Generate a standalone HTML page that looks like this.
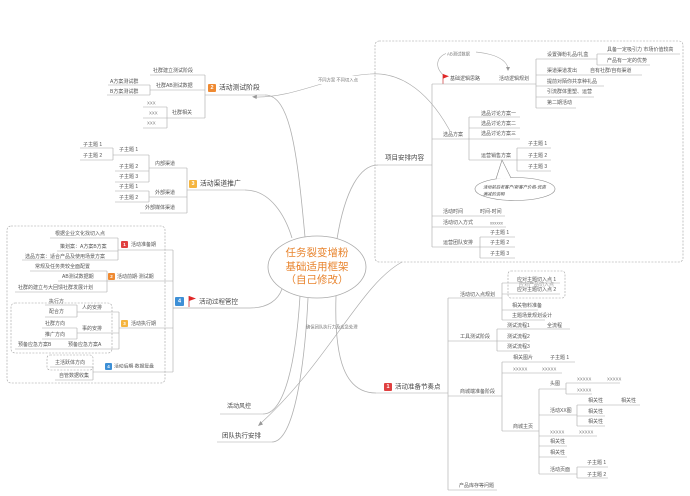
<!DOCTYPE html>
<html><head><meta charset="utf-8"><style>
html,body{margin:0;padding:0;background:#fff;}
svg{display:block;}
text{font-family:"Liberation Sans","Noto Sans CJK SC",sans-serif;fill:#555;font-size:5px;dominant-baseline:central;}
.l{stroke:#a8a8a8;stroke-width:.6;fill:none;}
.m{stroke:#b0b0b0;stroke-width:.8;fill:none;}
.d{stroke:#a0a0a0;stroke-width:.6;fill:none;stroke-dasharray:2 1.3;}
.b{font-size:6.8px;fill:#444;}
.x{font-size:4.3px;fill:#777;}
.bt{fill:#fff;font-size:5.5px;font-weight:bold;text-anchor:middle;}
</style></head><body>
<svg width="690" height="496" viewBox="0 0 690 496" xmlns="http://www.w3.org/2000/svg">
<rect width="690" height="496" fill="#fff"/>

<!-- Dashed boxes -->
<rect class="d" x="7" y="226" width="158" height="157" rx="4"/>
<rect class="d" x="11" y="303" width="101" height="50" rx="4"/>
<rect class="d" x="47" y="355" width="46" height="15" rx="3"/>
<rect class="d" x="375" y="41" width="308" height="221" rx="4"/>
<rect class="d" x="508" y="271" width="57" height="27" rx="3"/>

<!-- Main connectors -->
<path class="m" d="M265,95 C290,95 297,150 305,237"/>
<path class="m" d="M245,190 C270,190 285,215 292,238"/>
<path class="m" d="M173,308 H250 C268,308 278,300 282,289"/>
<path class="m" d="M337,239 C345,190 360,165 378,165"/>
<path class="m" d="M336,296 C334,360 345,393 376,393"/>
<path class="m" d="M263,414 C285,414 296,360 300,296"/>
<path class="m" d="M272,442 C295,442 305,360 308,298"/>

<!-- Relationship arrows -->
<path class="l" d="M450,131 C425,85 395,72 370,74 C330,76 295,98 255,97"/>
<path d="M252,96.8 L257,94.8 L256.6,99 Z" fill="#999"/>
<rect x="316" y="76" width="56" height="8" fill="#fff"/>
<text class="x" x="318" y="80">不同方案 不同切入点</text>

<path class="l" d="M402,262 C360,285 330,360 260,424"/>
<path d="M258,426 L260.5,421 L263,424.5 Z" fill="#999"/>
<text class="x" x="306" y="327">确保团队执行力及应急处理</text>

<path class="l" d="M446,77 C432,68 436,52 455,52 C480,50 505,55 508,68"/>
<path d="M508,71 L506,67 L510,67 Z" fill="#999"/>
<rect x="446" y="51" width="30" height="6" fill="#fff"/>
<text class="x" x="447" y="54">AB测试数据</text>

<!-- Center -->
<ellipse cx="317" cy="267" rx="49" ry="31" fill="#fff" stroke="#aaa" stroke-width=".8"/>
<text x="317" y="253" style="font-size:10.5px;fill:#e8842e;text-anchor:middle">任务裂变增粉</text>
<text x="317" y="267" style="font-size:10.5px;fill:#e8842e;text-anchor:middle">基础适用框架</text>
<text x="317" y="280" style="font-size:10.5px;fill:#e8842e;text-anchor:middle">（自己修改）</text>

<!-- Branch 2 活动测试阶段 -->
<rect x="208" y="84" width="8" height="8" rx="1" fill="#ef8a32"/><text class="bt" x="212" y="88">2</text>
<text class="b" x="219" y="88">活动测试阶段</text>
<path class="l" d="M205,95 H265 M205,75 V118"/>
<text x="153" y="71">社群建立测试阶段</text><path class="l" d="M150,75 H205"/>
<text x="156" y="86">社群AB测试数据</text><path class="l" d="M150,90 H205"/>
<text x="172" y="113">社群相关</text><path class="l" d="M167,118 H205"/>
<path class="l" d="M150,85 V95"/>
<text x="110" y="82">A方案测试群</text><path class="l" d="M108,85 H150"/>
<text x="110" y="92">B方案测试群</text><path class="l" d="M107,95 H150"/>
<path class="l" d="M167,107 V128"/>
<text class="x" x="147" y="103">XXX</text><path class="l" d="M143,107 H167"/>
<text class="x" x="149" y="113">XXX</text><path class="l" d="M143,118 H167"/>
<text class="x" x="147" y="123">XXX</text><path class="l" d="M143,128 H167"/>

<!-- Branch 3 活动渠道推广 -->
<rect x="189" y="180" width="8" height="8" rx="1" fill="#f5b53f"/><text class="bt" x="193" y="184">3</text>
<text class="b" x="200" y="184">活动渠道推广</text>
<path class="l" d="M187,190 H245 M187,168 V213"/>
<text x="155" y="164">内部渠道</text><path class="l" d="M149,168 H187"/>
<text x="155" y="193">外部渠道</text><path class="l" d="M149,197 H187"/>
<text x="145" y="208">外部媒体渠道</text><path class="l" d="M140,213 H187"/>
<path class="l" d="M149,155 V182"/>
<text x="119" y="150">子主题 1</text><path class="l" d="M113,155 H149"/>
<text x="119" y="167">子主题 2</text><path class="l" d="M115,171 H149"/>
<text x="119" y="177">子主题 3</text><path class="l" d="M115,182 H149"/>
<path class="l" d="M113,148 V160"/>
<text x="83" y="145">子主题 1</text><path class="l" d="M80,148 H113"/>
<text x="83" y="156">子主题 2</text><path class="l" d="M80,160 H113"/>
<path class="l" d="M149,191 V202"/>
<text x="119" y="187">子主题 1</text><path class="l" d="M115,191 H149"/>
<text x="119" y="198">子主题 2</text><path class="l" d="M115,202 H149"/>

<!-- Branch 4 活动过程管控 -->
<rect x="175" y="297" width="9" height="9" rx="1" fill="#3d8fd6"/><text class="bt" x="179.5" y="301.5">4</text>
<path d="M189,296 V307" stroke="#c33" stroke-width=".8"/><path d="M189,296 L196,298.5 L189,301 Z" fill="#e02828"/>
<text class="b" x="199" y="302" style="font-size:6.5px">活动过程管控</text>
<path class="l" d="M173,250 V372"/>
<rect x="121" y="241" width="7" height="7" rx="1" fill="#e04040"/><text class="bt" x="124.5" y="244.5" style="font-size:4.5px">1</text>
<text x="131" y="245">活动准备期</text><path class="l" d="M118,250 H173"/>
<rect x="108" y="273" width="7" height="7" rx="1" fill="#ef8a32"/><text class="bt" x="111.5" y="276.5" style="font-size:4.5px">2</text>
<text x="117" y="277">活动前期·测试期</text><path class="l" d="M107,281 H173"/>
<rect x="121" y="320" width="7" height="7" rx="1" fill="#f5b53f"/><text class="bt" x="124.5" y="323.5" style="font-size:4.5px">3</text>
<text x="131" y="324">活动执行期</text><path class="l" d="M119,328 H173"/>
<rect x="105" y="363" width="7" height="7" rx="1" fill="#3d8fd6"/><text class="bt" x="108.5" y="366.5" style="font-size:4.5px">4</text>
<text x="114" y="367" style="font-size:4.8px">活动后期·数据复盘</text><path class="l" d="M93,372 H173"/>

<path class="l" d="M118,238 V260"/>
<text x="55" y="234">根据企业文化找切入点</text><path class="l" d="M50,238 H118"/>
<text x="60" y="247">策划案：A方案B方案</text><path class="l" d="M57,251 H118"/>
<text x="25" y="257">选品方案：适合产品及使用场景方案</text><path class="l" d="M22,260 H118"/>

<path class="l" d="M107,271 V292"/>
<text x="35" y="267">常规及任务类较全面配置</text><path class="l" d="M30,271 H107"/>
<text x="62" y="277">AB测试数据期</text><path class="l" d="M58,281 H107"/>
<text x="18" y="288">社群的建立与大回馈社群发展计划</text><path class="l" d="M15,292 H107"/>

<path class="l" d="M119,312 V349"/>
<text x="82" y="308">人的安排</text><path class="l" d="M77,312 H119"/>
<text x="82" y="329">事的安排</text><path class="l" d="M77,333 H119"/>
<text x="68" y="345">预备应急方案A</text><path class="l" d="M65,349 H119"/>
<path class="l" d="M77,305 V317"/>
<text x="49" y="302">执行方</text><path class="l" d="M45,305 H77"/>
<text x="49" y="312">配合方</text><path class="l" d="M45,317 H77"/>
<path class="l" d="M77,328 V339"/>
<text x="45" y="324">社群方向</text><path class="l" d="M42,328 H77"/>
<text x="45" y="335">推广方向</text><path class="l" d="M42,339 H77"/>
<text x="18" y="345">预备应急方案B</text><path class="l" d="M15,349 H65"/>

<path class="l" d="M93,367 V380"/>
<text x="55" y="363">主活跃体方向</text><path class="l" d="M50,367 H93"/>
<text x="59" y="376">自管数据收集</text><path class="l" d="M55,380 H93"/>

<!-- Right: 项目安排内容 -->
<text class="b" x="385" y="158" style="font-size:6.5px">项目安排内容</text>
<path class="l" d="M378,165 H432 M432,84 V247"/>
<path d="M443,74 V84" stroke="#c33" stroke-width=".7"/><path d="M443,74 L449,76.3 L443,78.6 Z" fill="#e02828"/>
<text x="450" y="79">基础逻辑思路</text>
<text x="499" y="79">活动逻辑规划</text>
<path class="l" d="M432,84 H536 M536,59 V108"/>
<text x="547" y="55">设置弹粉礼品/礼盒</text><path class="l" d="M536,59 H597 M597,54 V65"/>
<text x="607" y="50">具备一定吸引力 市场价值较高</text><path class="l" d="M597,54 H680"/>
<text x="607" y="61">产品有一定的优势</text><path class="l" d="M597,65 H650"/>
<text x="547" y="71">渠道渠道发出</text><text x="590" y="71">自有社群/自有渠道</text><path class="l" d="M536,75 H642"/>
<text x="547" y="82">提前对陌你共享种礼品</text><path class="l" d="M536,86 H604"/>
<text x="547" y="92">引流群体重塑、运营</text><path class="l" d="M536,97 H594"/>
<text x="547" y="103">第二期活动</text><path class="l" d="M536,108 H576"/>

<text x="443" y="135">选品方案</text><path class="l" d="M432,139 H469 M469,117 V160"/>
<text x="481" y="114">选品讨论方案一</text><path class="l" d="M469,117 H520"/>
<text x="481" y="124">选品讨论方案二</text><path class="l" d="M469,128 H520"/>
<text x="481" y="134">选品讨论方案三</text><path class="l" d="M469,139 H520"/>
<text x="481" y="156">运营销售方案</text><path class="l" d="M469,160 H517 M517,148 V171"/>
<text x="528" y="144">子主题 1</text><path class="l" d="M517,148 H551"/>
<text x="528" y="156">子主题 2</text><path class="l" d="M517,160 H551"/>
<text x="528" y="167">子主题 3</text><path class="l" d="M517,171 H551"/>
<ellipse cx="515" cy="189" rx="40" ry="11.5" fill="#fff" stroke="#888" stroke-width=".6"/>
<path d="M496,179 L502,160 L511,178" fill="#fff" stroke="#888" stroke-width=".6"/>
<text class="x" x="483" y="187" style="font-style:italic;fill:#444">活动前后老客户/新客户价格-优惠</text>
<text class="x" x="483" y="194" style="font-style:italic;fill:#444">满减的说明</text>

<text x="443" y="212">活动时间</text><text x="480" y="212">时间-时间</text><path class="l" d="M432,216 H505"/>
<text x="443" y="223">活动切入方式</text><text class="x" x="490" y="223">xxxxxx</text><path class="l" d="M432,227 H506"/>
<text x="443" y="243">运营团队安排</text><path class="l" d="M432,247 H480 M480,237 V258"/>
<text x="490" y="233">子主题 1</text><path class="l" d="M480,237 H515"/>
<text x="490" y="243">子主题 2</text><path class="l" d="M480,247 H515"/>
<text x="490" y="254">子主题 3</text><path class="l" d="M480,258 H515"/>

<!-- Branch 1 活动准备节奏点 -->
<rect x="384" y="383" width="8" height="8" rx="1" fill="#e04040"/><text class="bt" x="388" y="387">1</text>
<text class="b" x="395" y="387" style="font-size:6.5px">活动准备节奏点</text>
<path class="l" d="M376,393 H448 M448,298 V490"/>
<text x="460" y="295">活动切入点规划</text><path class="l" d="M448,298 H502 M502,283 V320"/>
<text x="517" y="280">应对主题切入点 1</text><path class="l" d="M502,283 H560"/>
<text x="519" y="285" style="fill:#999">应对产品切入点</text>
<text x="517" y="290">应对主题切入点 2</text><path class="l" d="M502,294 H560"/>
<text x="512" y="306">相关物料准备</text><path class="l" d="M502,310 H538"/>
<text x="512" y="316">主题场景规划设计</text><path class="l" d="M502,320 H545"/>

<text x="460" y="337">工具测试阶段</text><path class="l" d="M448,341 H497 M497,329 V351"/>
<text x="507" y="326">测试流程1</text><text x="547" y="326">全流程</text><path class="l" d="M497,329 H570"/>
<text x="507" y="337">测试流程2</text><path class="l" d="M497,341 H530"/>
<text x="507" y="347">测试流程3</text><path class="l" d="M497,351 H530"/>

<text x="460" y="392">商城端准备阶段</text><path class="l" d="M448,396 H502 M502,362 V431"/>
<text x="513" y="358">相关图片</text><text x="550" y="358">子主题 1</text><path class="l" d="M502,362 H575"/>
<text class="x" x="513" y="369">XXXXX</text><text class="x" x="542" y="369">XXXXX</text><path class="l" d="M502,373 H562"/>
<text x="513" y="427">商城主页</text><path class="l" d="M502,431 H539 M539,389 V474"/>
<text x="550" y="384">头图</text><path class="l" d="M539,389 H566 M566,383 V394"/>
<text class="x" x="577" y="379">XXXXX</text><text class="x" x="607" y="379">XXXXX</text><path class="l" d="M566,383 H620"/>
<text class="x" x="577" y="390">XXXXX</text><path class="l" d="M566,394 H592"/>
<text x="550" y="411">活动XX图</text><path class="l" d="M539,415 H577 M577,405 V426"/>
<text x="588" y="401">相关性</text><text x="621" y="401">相关性</text><path class="l" d="M577,405 H640"/>
<text x="588" y="412">相关性</text><path class="l" d="M577,416 H605"/>
<text x="588" y="422">相关性</text><path class="l" d="M577,426 H605"/>
<text class="x" x="550" y="432">XXXXX</text><text class="x" x="579" y="432">XXXXX</text><path class="l" d="M539,436 H597"/>
<text x="550" y="442">相关性</text><path class="l" d="M539,446 H567"/>
<text x="550" y="453">相关性</text><path class="l" d="M539,457 H567"/>
<text x="550" y="470">活动页面</text><path class="l" d="M539,474 H577 M577,467 V478"/>
<text x="587" y="463">子主题 1</text><path class="l" d="M577,467 H608"/>
<text x="587" y="475">子主题 2</text><path class="l" d="M577,478 H608"/>
<text x="459" y="486">产品库存等问题</text><path class="l" d="M448,490 H497"/>

<!-- Bottom-center branches -->
<text class="b" x="227" y="407" style="font-size:6px">活动风控</text><path class="l" d="M220,414 H263"/>
<text class="b" x="222" y="436" style="font-size:6.5px">团队执行安排</text><path class="l" d="M217,442 H272"/>
</svg>
</body></html>
